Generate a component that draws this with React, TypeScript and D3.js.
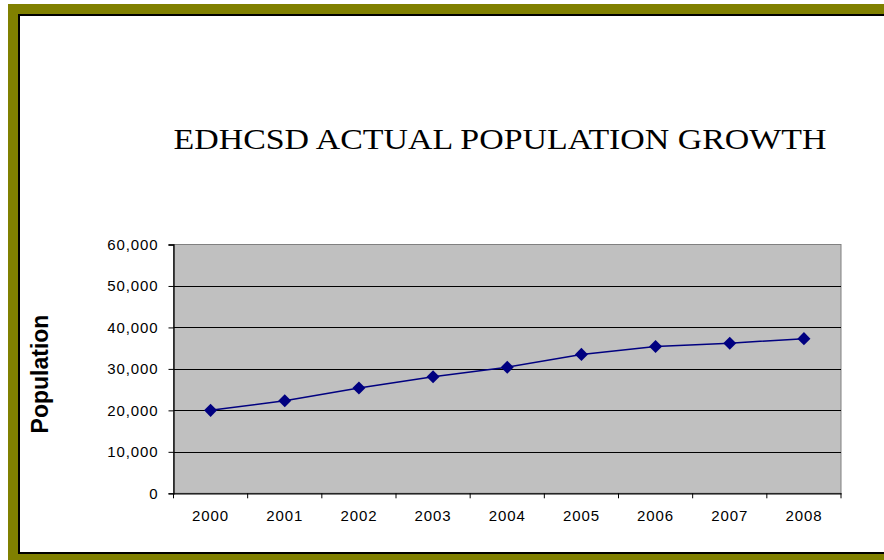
import React, { useEffect, useRef } from 'react';
import * as d3 from 'd3';

const years = ['2000', '2001', '2002', '2003', '2004', '2005', '2006', '2007', '2008'];
const population = [20000, 22300, 25400, 28100, 30400, 33500, 35400, 36200, 37300];
const yTicks = [0, 10000, 20000, 30000, 40000, 50000, 60000];

const W = 884;
const H = 560;

export default function App() {
  const svgRef = useRef<SVGSVGElement>(null);

  useEffect(() => {
    if (!svgRef.current) return;
    const svg = d3.select(svgRef.current);
    svg.selectAll('*').remove();

    const plot = { left: 173.5, right: 841, top: 244.5, bottom: 493.3 };

    // frame (right edge runs off the canvas)
    svg.append('rect').attr('x', 0).attr('y', 0).attr('width', W).attr('height', H).attr('fill', '#fff');
    svg.append('rect')
      .attr('x', 13).attr('y', 9)
      .attr('width', 1000).attr('height', 550)
      .attr('fill', 'none').attr('stroke', '#808000').attr('stroke-width', 10);
    svg.append('rect')
      .attr('x', 19).attr('y', 15)
      .attr('width', 1000).attr('height', 538)
      .attr('fill', 'none').attr('stroke', '#000').attr('stroke-width', 2);

    // title
    svg.append('text')
      .attr('x', 500).attr('y', 149)
      .attr('text-anchor', 'middle')
      .attr('font-family', '"Liberation Serif", "DejaVu Serif", serif')
      .attr('font-size', 30)
      .attr('textLength', 653)
      .attr('lengthAdjust', 'spacingAndGlyphs')
      .attr('fill', '#000')
      .text('EDHCSD ACTUAL POPULATION GROWTH');

    const x = d3.scaleBand().domain(years).range([plot.left, plot.right]);
    const y = d3.scaleLinear().domain([0, 60000]).range([plot.bottom, plot.top]);

    // plot area
    svg.append('rect')
      .attr('x', plot.left).attr('y', plot.top)
      .attr('width', plot.right - plot.left).attr('height', plot.bottom - plot.top)
      .attr('fill', '#c0c0c0').attr('stroke', '#808080').attr('stroke-width', 1);

    // gridlines
    svg.append('g')
      .selectAll('line')
      .data(yTicks.filter(t => t > 0 && t < 60000))
      .join('line')
      .attr('x1', plot.left).attr('x2', plot.right)
      .attr('y1', d => Math.round(y(d)) + 0.5).attr('y2', d => Math.round(y(d)) + 0.5)
      .attr('stroke', '#000').attr('stroke-width', 1.2);

    const labelFont = (sel: any) => sel
      .attr('font-family', '"Liberation Sans", Arial, sans-serif')
      .attr('font-size', 15)
      .attr('letter-spacing', '0.9px')
      .attr('fill', '#000');

    // y axis
    const yAxis = svg.append('g')
      .attr('transform', `translate(${plot.left},0)`)
      .call(d3.axisLeft(y).tickValues(yTicks).tickSize(5).tickPadding(10).tickFormat(d3.format(',')));
    yAxis.select('.domain').attr('stroke', '#000').attr('stroke-width', 1.3);
    yAxis.selectAll('line').attr('stroke', '#000');
    labelFont(yAxis.selectAll('text'));

    // x axis
    const xAxis = svg.append('g')
      .attr('transform', `translate(0,${plot.bottom})`)
      .call(d3.axisBottom(x).tickSize(0).tickPadding(17));
    xAxis.select('.domain').attr('stroke', '#000').attr('stroke-width', 1.3);
    labelFont(xAxis.selectAll('text'));
    const boundaries = years.map(yr => x(yr) as number).concat([plot.right]);
    svg.append('g')
      .selectAll('line')
      .data(boundaries)
      .join('line')
      .attr('x1', d => d).attr('x2', d => d)
      .attr('y1', plot.bottom).attr('y2', plot.bottom + 5)
      .attr('stroke', '#000').attr('stroke-width', 1);

    // y label
    svg.append('text')
      .attr('transform', `translate(48,374) rotate(-90)`)
      .attr('text-anchor', 'middle')
      .attr('font-family', '"Liberation Sans", Arial, sans-serif')
      .attr('font-weight', 'bold')
      .attr('font-size', 23)
      .attr('fill', '#000')
      .text('Population');

    // line
    const cx = (yr: string) => (x(yr) as number) + x.bandwidth() / 2;
    const line = d3.line<number>()
      .x((_, i) => cx(years[i]))
      .y(d => y(d));
    svg.append('path')
      .datum(population)
      .attr('d', line)
      .attr('fill', 'none')
      .attr('stroke', '#000080')
      .attr('stroke-width', 1.5);

    // diamond markers
    const diamond = d3.symbol().type(d3.symbolSquare).size(85);
    svg.append('g')
      .selectAll('path')
      .data(population)
      .join('path')
      .attr('d', diamond)
      .attr('transform', (d, i) => `translate(${cx(years[i])},${y(d)}) rotate(45)`)
      .attr('fill', '#000080');
  }, []);

  return (
    <div style={{ position: 'fixed', left: 0, top: 0, width: W, height: H, overflow: 'hidden' }}>
      <svg ref={svgRef} width={W} height={H} style={{ display: 'block' }} />
    </div>
  );
}
